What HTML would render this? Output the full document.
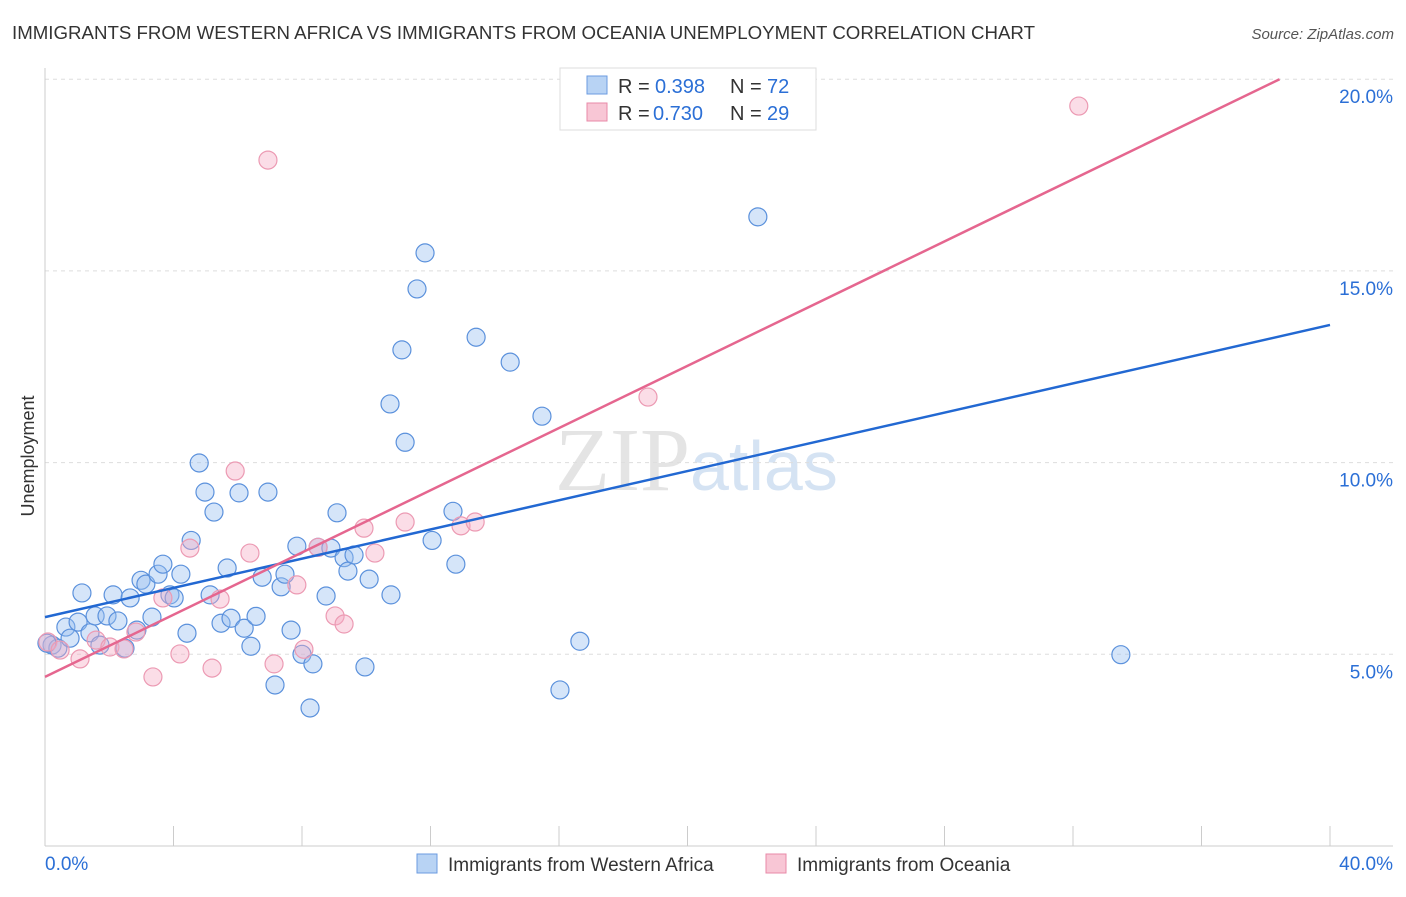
<!DOCTYPE html>
<html><head><meta charset="utf-8"><style>
body{margin:0;background:#fff;font-family:"Liberation Sans",sans-serif;}
</style></head><body>
<svg id="chart" width="1406" height="892" xmlns="http://www.w3.org/2000/svg" font-family="Liberation Sans, sans-serif">
<text x="12" y="39" font-size="18" fill="#333" textLength="1023" lengthAdjust="spacingAndGlyphs">IMMIGRANTS FROM WESTERN AFRICA VS IMMIGRANTS FROM OCEANIA UNEMPLOYMENT CORRELATION CHART</text>
<text x="1394" y="39" font-size="15" fill="#555" text-anchor="end" font-style="italic">Source: ZipAtlas.com</text>
<text x="555" y="490" font-size="90" fill="#e4e4e4" font-family="Liberation Serif, serif">ZIP<tspan fill="#d5e3f3" font-family="Liberation Sans, sans-serif" font-size="70">atlas</tspan></text>
<g id="grid"></g>
<g id="axes"></g>
<g id="pts"></g>
<g id="lines"></g>
<text transform="translate(34,456) rotate(-90)" font-size="18" fill="#333" text-anchor="middle">Unemployment</text>
<g>
<rect x="560" y="68" width="256" height="62" fill="#fff" stroke="#ddd"/>
<rect x="587" y="76" width="20" height="18" fill="#b8d3f4" stroke="#6b9be0"/>
<rect x="587" y="103" width="20" height="18" fill="#f8c6d5" stroke="#e88aa8"/>
<text x="618" y="93" font-size="20" fill="#333">R =</text>
<text x="655" y="93" font-size="20" fill="#2b6fd6">0.398</text>
<text x="730" y="93" font-size="20" fill="#333">N =</text>
<text x="767" y="93" font-size="20" fill="#2b6fd6">72</text>
<text x="618" y="120" font-size="20" fill="#333">R =</text>
<text x="653" y="120" font-size="20" fill="#2b6fd6">0.730</text>
<text x="730" y="120" font-size="20" fill="#333">N =</text>
<text x="767" y="120" font-size="20" fill="#2b6fd6">29</text>
</g>
<g>
<rect x="417" y="854" width="20" height="19" fill="#b8d3f4" stroke="#6b9be0"/>
<text x="448" y="871" font-size="19" fill="#333">Immigrants from Western Africa</text>
<rect x="766" y="854" width="20" height="19" fill="#f8c6d5" stroke="#e88aa8"/>
<text x="797" y="871" font-size="19" fill="#333">Immigrants from Oceania</text>
</g>
</svg>
<script>
const blueX=[0.22,0.40,0.65,0.78,1.03,1.15,1.40,1.56,1.71,1.93,2.12,2.27,2.49,2.65,2.86,2.99,3.14,3.33,3.52,3.67,3.89,4.02,4.23,4.42,4.55,4.80,4.98,5.14,5.26,5.48,5.67,5.79,6.04,6.20,6.41,6.57,6.76,6.94,7.16,7.35,7.47,7.66,7.84,8.00,8.25,8.34,8.50,8.75,8.90,9.09,9.31,9.43,9.62,9.96,10.09,10.74,10.77,11.11,11.21,11.58,11.83,12.05,12.70,12.79,13.42,14.48,15.47,16.03,16.65,22.19,33.49,0.06];
const blueY=[5.24,5.16,5.71,5.42,5.84,6.60,5.56,6.00,5.24,6.00,6.55,5.87,5.16,6.47,5.63,6.93,6.83,5.97,7.09,7.35,6.55,6.47,7.09,5.55,7.97,9.99,9.23,6.55,8.71,5.81,7.25,5.94,9.21,5.68,5.21,5.99,7.01,9.23,4.20,6.76,7.09,5.63,7.82,5.00,3.60,4.75,7.79,6.52,7.77,8.69,7.52,7.17,7.59,4.67,6.96,11.53,6.55,12.94,10.53,14.53,15.47,7.97,8.73,7.35,13.27,12.62,11.21,4.07,5.34,16.41,4.99,5.29];
const pinkX=[0.09,0.47,1.09,1.59,2.02,2.46,2.83,3.36,3.67,4.20,4.51,5.20,5.45,5.92,6.38,6.94,7.13,7.84,8.06,8.50,9.03,9.31,9.93,10.27,11.21,12.95,13.39,18.77,32.18];
const pinkY=[5.32,5.11,4.88,5.37,5.19,5.14,5.58,4.41,6.47,5.01,7.77,4.64,6.44,9.78,7.64,17.89,4.75,6.81,5.13,7.79,6.00,5.79,8.29,7.64,8.45,8.35,8.45,11.71,19.30];
const blueLine=[[0,5.97],[40,13.59]];
const pinkLine=[[0,4.41],[38.43,20.0]];
const yTicks=[5,10,15,20];
const xTickVals=[0,4,8,12,16,20,24,28,32,36,40];
const NS="http://www.w3.org/2000/svg";
const sx=v=>45+v/40*1285, sy=v=>846-v/5*191.7;
function mk(t,a,p){const e=document.createElementNS(NS,t);for(const k in a)e.setAttribute(k,a[k]);p.appendChild(e);return e;}
const grid=document.getElementById('grid'),axes=document.getElementById('axes'),pts=document.getElementById('pts'),lines=document.getElementById('lines');
yTicks.forEach(v=>{
 const l=mk('line',{x1:45,x2:1393,y1:sy(v),y2:sy(v),stroke:'#ddd','stroke-dasharray':'4,4'},grid);
 
 
 const t=mk('text',{x:1393,y:sy(v)+24,'font-size':19,fill:'#2b6fd6','text-anchor':'end'},axes);
 t.textContent=v.toFixed(1)+'%';
 
 
});
mk('line',{x1:45,x2:45,y1:68,y2:846,stroke:'#ccc'},axes);
mk('line',{x1:45,x2:1393,y1:846,y2:846,stroke:'#ccc'},axes);
xTickVals.forEach(v=>{
 const l=mk('line',{x1:sx(v),x2:sx(v),y1:826,y2:846,stroke:'#ccc'},axes);
 
 
});
[[0,'0.0%','start',45],[40,'40.0%','end',1393]].forEach(d=>{
 const t=mk('text',{x:d[3],y:870,'font-size':19,fill:'#2b6fd6','text-anchor':d[2]},axes);
 t.textContent=d[1];
 
 
});
blueX.forEach((x,i)=>{
 const c=mk('circle',{cx:sx(x),cy:sy(blueY[i]),r:9,fill:'rgba(150,190,240,0.4)',stroke:'#5b91dc','stroke-width':1.2},pts);
 
 
});
pinkX.forEach((x,i)=>{
 const c=mk('circle',{cx:sx(x),cy:sy(pinkY[i]),r:9,fill:'rgba(246,170,195,0.4)',stroke:'#ec9ab3','stroke-width':1.2},pts);
 
 
});
const bl=mk('line',{x1:sx(blueLine[0][0]),y1:sy(blueLine[0][1]),x2:sx(blueLine[1][0]),y2:sy(blueLine[1][1]),stroke:'#2268d2','stroke-width':2.5},lines);


const pl=mk('line',{x1:sx(pinkLine[0][0]),y1:sy(pinkLine[0][1]),x2:sx(pinkLine[1][0]),y2:sy(pinkLine[1][1]),stroke:'#e5668f','stroke-width':2.5},lines);


</script>
</body></html>
